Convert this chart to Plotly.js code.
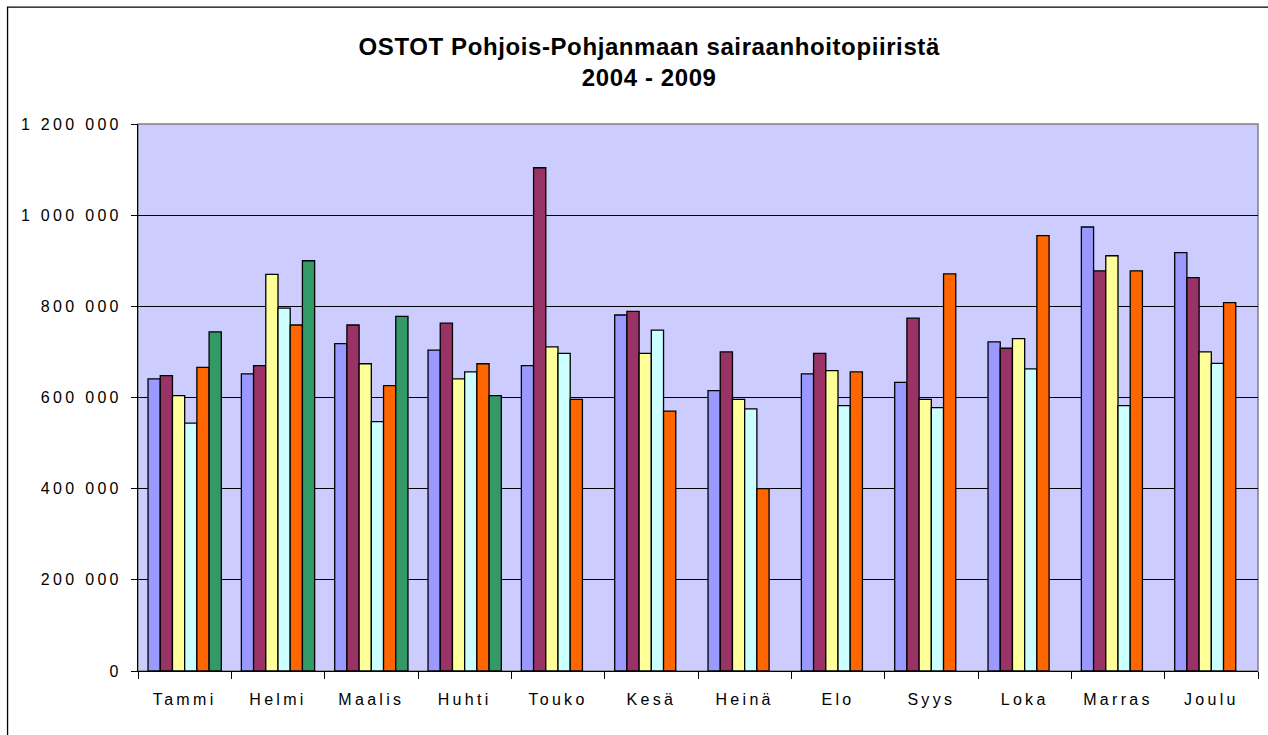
<!DOCTYPE html>
<html>
<head>
<meta charset="utf-8">
<script src="https://cdn.plot.ly/plotly-3.0.1.min.js"></script>
<style>
html, body { margin: 0; padding: 0; background: #ffffff; }
#chart { width: 1268px; height: 735px; }
#chart .xtick text, #chart .ytick text { letter-spacing: 3.3px; }
#chart .gtitle { letter-spacing: 0.6px; }
</style>
</head>
<body>
<div id="chart"></div>
<script>
const months = ["Tammi", "Helmi", "Maalis", "Huhti", "Touko", "Kesä", "Heinä", "Elo", "Syys", "Loka", "Marras", "Joulu"];
const seriesNames = ["2004", "2005", "2006", "2007", "2008", "2009"];
const v2004 = [641000, 652000, 718000, 704000, 670000, 781000, 615000, 652000, 633000, 722000, 974000, 918000];
const v2005 = [648000, 670000, 759000, 763000, 1104000, 789000, 700000, 697000, 774000, 708000, 878000, 863000];
const v2006 = [604000, 870000, 674000, 641000, 711000, 697000, 596000, 659000, 596000, 729000, 911000, 700000];
const v2007 = [544000, 796000, 547000, 656000, 697000, 748000, 575000, 582000, 578000, 663000, 582000, 675000];
const v2008 = [666000, 759000, 626000, 674000, 596000, 570000, 400000, 656000, 871000, 955000, 878000, 808000];
const v2009 = [744000, 900000, 778000, 604000, null, null, null, null, null, null, null, null];
const seriesColors = ["#9999FF", "#993366", "#FFFF99", "#CCFFFF", "#FF6600", "#339966"];
const yTickVals = [0, 200000, 400000, 600000, 800000, 1000000, 1200000];
const yTickText = ["0", "200 000", "400 000", "600 000", "800 000", "1 000 000", "1 200 000"];
const titleText = "OSTOT Pohjois-Pohjanmaan sairaanhoitopiiristä<br>2004 - 2009";

const allValues = [v2004, v2005, v2006, v2007, v2008, v2009];
const traces = allValues.map((vals, i) => ({
  type: "bar",
  name: seriesNames[i],
  x: months,
  y: vals,
  marker: { color: seriesColors[i], line: { color: "#000000", width: 1.3 } },
  hoverinfo: "x+y+name"
}));

const W = 1268, H = 735;
const L = 137.5, R = 1258, T = 124, B = 671.3;
const pw = R - L, ph = B - T;
const px = (x) => (x - L) / pw;
const py = (y) => (B - y) / ph;

const layout = {
  width: W, height: H,
  margin: { l: L, r: W - R, t: T, b: H - B, pad: 0 },
  paper_bgcolor: "#ffffff",
  plot_bgcolor: "#CCCCFF",
  showlegend: false,
  barmode: "group",
  bargap: 0.215,
  bargroupgap: 0,
  font: { family: "Liberation Sans, Arial, sans-serif", color: "#000000", size: 16 },
  title: {
    text: titleText,
    x: 0.512, xanchor: "center", xref: "container",
    y: 0.925, yanchor: "middle", yref: "container",
    font: { family: "Liberation Sans, Arial, sans-serif", size: 24, color: "#000000", weight: "bold" }
  },
  xaxis: {
    type: "category",
    showline: true, linecolor: "#000000", linewidth: 1,
    ticks: "outside", ticklen: 7, tickcolor: "#000000", tickwidth: 1,
    tickson: "boundaries",
    showgrid: false,
    ticklabelstandoff: 14,
    tickfont: { size: 16, family: "Liberation Sans, Arial, sans-serif" }
  },
  yaxis: {
    range: [0, 1200000],
    tickvals: yTickVals, ticktext: yTickText,
    showline: true, linecolor: "#000000", linewidth: 1,
    ticks: "outside", ticklen: 6, tickcolor: "#000000", tickwidth: 1,
    showgrid: true, gridcolor: "#000000", gridwidth: 1,
    zeroline: false,
    ticklabelstandoff: 6,
    tickfont: { size: 16, family: "Liberation Sans, Arial, sans-serif" }
  },
  shapes: [
    { type: "rect", xref: "paper", yref: "paper", x0: 0, x1: 1, y0: 0, y1: 1,
      line: { color: "#808080", width: 1.5 }, fillcolor: "rgba(0,0,0,0)", layer: "below" },
    { type: "rect", xref: "paper", yref: "paper", x0: px(7), x1: px(1290), y0: py(760), y1: py(7),
      line: { color: "#000000", width: 1.3 }, fillcolor: "rgba(0,0,0,0)", layer: "above" }
  ]
};

Plotly.newPlot("chart", traces, layout, { displayModeBar: false, staticPlot: true });
</script>
</body>
</html>
